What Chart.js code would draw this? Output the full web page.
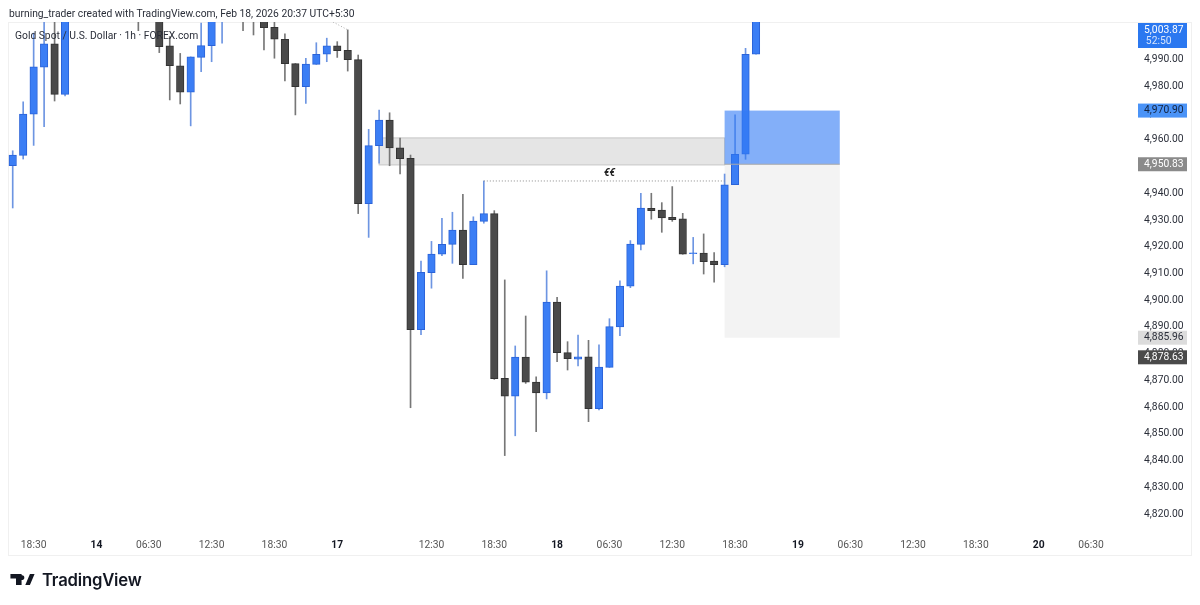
<!DOCTYPE html>
<html>
<head>
<meta charset="utf-8">
<title>Gold Spot / U.S. Dollar</title>
<script src="https://cdn.jsdelivr.net/npm/chart.js@4"></script>
<style>
    body { margin: 0; background: #fff; width: 1200px; height: 605px; overflow: hidden; position: relative; font-family: Roboto, sans-serif; }
    canvas { position: absolute; left: 0; top: 0; }
    .byline { position: absolute; left: 9px; top: 6px; font-size: 10.3px; line-height: 16px; color: #2a2e39; white-space: nowrap; }
    .symbol { position: absolute; left: 15px; top: 28px; font-size: 10.3px; line-height: 16px; color: #2a2e39; white-space: nowrap; }
    .logo { position: absolute; left: 10px; top: 573px; width: 25px; height: 13px; }
    .brand { position: absolute; left: 42px; top: 568px; font-family: Inter, sans-serif; font-size: 16.7px; font-weight: 600; line-height: 24px; color: #131722; letter-spacing: -0.2px; }
</style>
</head>
<body>
<canvas id="goldChart" width="1200" height="605"></canvas>
<div class="byline">burning_trader created with TradingView.com, Feb 18, 2026 20:37 UTC+5:30</div>
<div class="symbol">Gold Spot / U.S. Dollar · 1h · FOREX.com</div>
<svg class="logo" viewBox="0 0 26 14"><path fill="#131722" d="M0 1h12v12H6V6H0zM15 5a2.6 2.6 0 1 1 0-.01zM21 1h5l-5 12h-5z"/></svg>
<div class="brand">TradingView</div>
<script>
// candles, bar by bar; bars 6-13 and 21-23 sit above the visible range so they are estimates
const opens = [4949.9, 4953.8, 4969.2, 4986.8, 4995.5, 4976.6, 5012, 5024, 5018, 5033, 5040, 5030, 5020, 5012, 5018, 4994.7, 4987.3, 4977.4, 4990.4, 4994.8, 5008, 5016, 5020, 5012, 5008, 5001.7, 4997.2, 4988.1, 4979.5, 4987.8, 4991.6, 4994.7, 4993.1, 4989.6, 4935.7, 4957.4, 4967.0, 4956.6, 4952.7, 4888.6, 4909.9, 4916.8, 4920.5, 4925.8, 4912.9, 4929.1, 4932.0, 4870.4, 4863.7, 4878.3, 4869.0, 4864.9, 4898.9, 4880.0, 4877.6, 4878.4, 4859.0, 4874.5, 4889.6, 4904.9, 4920.5, 4934.0, 4933.3, 4930.6, 4930.0, 4917.0, 4917.2, 4914.2, 4912.9, 4942.8, 4954.2, 4991.6];
const highs = [4955.5, 4973.8, 4999.5, 5006, 5005, 5016, 5029, 5031, 5038, 5046, 5048, 5036, 5026, 5022, 5020, 4998.2, 4991.9, 4990.6, 5003.2, 5014, 5022, 5026, 5024, 5016, 5012, 5004.5, 4999.2, 4988.1, 4990.1, 4995.9, 4997.6, 4996.3, 5000.7, 4991.3, 4963.5, 4970.7, 4969.7, 4960.2, 4953.9, 4914.2, 4921.6, 4930.2, 4932.5, 4939.2, 4930.8, 4944.2, 4933.1, 4907.2, 4882.5, 4893.7, 4871.0, 4910.6, 4900.7, 4884.1, 4886.6, 4884.6, 4882.9, 4892.7, 4906.9, 4921.9, 4939.6, 4939.6, 4936.1, 4942.1, 4932.1, 4923.1, 4924.4, 4917.4, 4946.8, 4968.9, 4993.8, 5006];
const lows = [4934.1, 4952.4, 4957.5, 4964.5, 4974.1, 4976.0, 5008, 5014, 5015, 5028, 5024, 5014, 5000.4, 5006, 4992.2, 4974.5, 4973.0, 4964.8, 4985.1, 4988.8, 4995.7, 5008, 5000.4, 4998.8, 4993.2, 4990.1, 4981.6, 4968.9, 4973.2, 4987.8, 4988.8, 4990.4, 4985.3, 4932.0, 4923.1, 4950.9, 4949.9, 4946.8, 4859.4, 4886.7, 4904.1, 4916.3, 4913.4, 4907.8, 4912.9, 4928.4, 4870.0, 4841.5, 4848.9, 4868.5, 4850.4, 4862.7, 4876.6, 4873.5, 4875.0, 4854.2, 4858.6, 4874.5, 4886.3, 4904.3, 4918.4, 4929.9, 4925.0, 4929.1, 4916.8, 4913.2, 4909.4, 4906.4, 4912.1, 4942.8, 4952.3, 4991.6];
const closes = [4953.9, 4969.2, 4986.9, 4995.5, 4976.6, 5012, 5024, 5018, 5033, 5040, 5030, 5020, 5012, 5018, 4994.4, 4987.3, 4977.4, 4990.6, 4994.8, 5008, 5016, 5020, 5012, 5008, 5001.5, 4997.2, 4988.1, 4979.5, 4987.9, 4991.6, 4994.7, 4992.9, 4989.6, 4935.7, 4957.4, 4967.0, 4956.6, 4952.5, 4888.6, 4910.0, 4916.9, 4920.5, 4925.8, 4912.9, 4929.2, 4932.0, 4870.3, 4863.7, 4878.3, 4869.0, 4864.9, 4898.9, 4880.0, 4877.7, 4878.4, 4859.0, 4874.6, 4889.7, 4904.9, 4920.6, 4934.1, 4933.1, 4930.4, 4929.7, 4916.8, 4917.3, 4914.0, 4912.9, 4942.8, 4954.2, 4991.6, 5003.87];

// axis ticks
const priceTicks = [4820, 4830, 4840, 4850, 4860, 4870, 4880, 4890, 4900, 4910, 4920, 4930, 4940, 4950, 4960, 4970, 4980, 4990];
const timeTickBars = [2, 8, 13, 19, 25, 31, 40, 46, 52, 57, 63, 69, 75, 80, 86, 92, 98, 103];
const timeTickLabels = ['18:30', '14', '06:30', '12:30', '18:30', '17', '12:30', '18:30', '18', '06:30', '12:30', '18:30', '19', '06:30', '12:30', '18:30', '20', '06:30'];
const dayLabels = ['14', '17', '18', '19', '20'];

// drawings on the chart
const zoneBars = [35, 68];
const zonePrices = [4950.2, 4960.3];
const positionBars = [68, 79];
const entryPrice = 4950.83;
const targetPrice = 4970.90;
const stopPrice = 4885.96;
const sweepBars = [45, 68];
const sweepPrice = 4944.2;
const trendBars = [30.6, 32];
const trendPrices = [5003.65, 5000.7];

// last price and the other tags on the price axis
const lastPrice = 5003.87;
const countdown = '52:50';
const currentPrice = 4878.63;

const upColor = '#3b7ef5';
const downColor = '#4a4a4a';
const bars = opens.map((o, i) => i);
const isUp = bars.map(i => closes[i] >= opens[i]);
const money = v => v.toLocaleString('en-US', { minimumFractionDigits: 2, maximumFractionDigits: 2 });

// boxes and tags sit about a pixel lower than the candles
const tagNudge = 1;

// frame of the pane, below everything else
const framePlugin = {
    id: 'frame',
    beforeDraw(chart) {
        const ctx = chart.ctx;
        ctx.save();
        ctx.strokeStyle = '#f0f0f0';
        ctx.lineWidth = 1;
        ctx.strokeRect(8.5, 22.5, 1183, 533);
        ctx.restore();
    }
};

// grey zone and stop box go under the candles, target box on top of them
const boxesPlugin = {
    id: 'boxes',
    beforeDatasetsDraw(chart) {
        const { ctx, scales: { x, y } } = chart;
        const left = x.getPixelForValue(positionBars[0]);
        const right = x.getPixelForValue(positionBars[1]);
        ctx.save();
        ctx.fillStyle = '#f3f3f3';
        ctx.fillRect(left, y.getPixelForValue(entryPrice) + tagNudge, right - left, y.getPixelForValue(stopPrice) - y.getPixelForValue(entryPrice));

        const zoneLeft = x.getPixelForValue(zoneBars[0]);
        const zoneRight = x.getPixelForValue(zoneBars[1]);
        const zoneTop = y.getPixelForValue(zonePrices[1]);
        const zoneBottom = y.getPixelForValue(zonePrices[0]);
        ctx.fillStyle = '#e5e5e5';
        ctx.fillRect(zoneLeft, zoneTop, zoneRight - zoneLeft, zoneBottom - zoneTop);
        ctx.strokeStyle = '#c6c6c6';
        ctx.lineWidth = 1;
        ctx.strokeRect(zoneLeft, zoneTop, zoneRight - zoneLeft, zoneBottom - zoneTop);

        ctx.fillStyle = '#222';
        ctx.font = 'italic bold 10px Roboto';
        ctx.textAlign = 'center';
        ctx.textBaseline = 'middle';
        ctx.fillText('€€', x.getPixelForValue(57), y.getPixelForValue(4947.1));
        ctx.restore();
    },
    afterDatasetsDraw(chart) {
        const { ctx, scales: { x, y } } = chart;
        const left = x.getPixelForValue(positionBars[0]);
        const right = x.getPixelForValue(positionBars[1]);
        const top = y.getPixelForValue(targetPrice) + tagNudge;
        const bottom = y.getPixelForValue(entryPrice) + tagNudge;
        ctx.save();
        ctx.fillStyle = 'rgba(49, 121, 245, 0.6)';
        ctx.fillRect(left, top, right - left, bottom - top);
        ctx.strokeStyle = '#a9a9a9';
        ctx.beginPath();
        ctx.moveTo(left, bottom);
        ctx.lineTo(right, bottom);
        ctx.stroke();
        ctx.restore();
    }
};

// coloured labels sitting on top of the price axis
const priceTagsPlugin = {
    id: 'priceTags',
    afterDraw(chart) {
        const { ctx, scales: { y } } = chart;
        const tagLeft = 1138;
        const tagWidth = 49;
        const textRight = 1183.5;
        ctx.save();
        ctx.font = '10.3px Roboto';
        ctx.textAlign = 'right';
        ctx.textBaseline = 'middle';

        const drawTag = (price, fill, color) => {
            const py = y.getPixelForValue(price) + tagNudge;
            ctx.fillStyle = fill;
            ctx.fillRect(tagLeft, py - 7, tagWidth, 14);
            ctx.fillStyle = color;
            ctx.fillText(money(price), textRight, py);
        };
        drawTag(targetPrice, '#4a93f7', '#14233f');
        drawTag(entryPrice, '#8a8a8a', '#fff');
        drawTag(stopPrice, '#dcdcdc', '#2a2e39');
        drawTag(currentPrice, '#4a4a4a', '#fff');

        // last price tag is pushed down so it stays inside the pane
        ctx.fillStyle = '#2b78f0';
        ctx.fillRect(tagLeft, 23, tagWidth, 25);
        ctx.fillStyle = '#fff';
        ctx.fillText(money(lastPrice), textRight, 30);
        ctx.fillStyle = '#d5e4fd';
        ctx.fillText(countdown, textRight - 12, 41);
        ctx.restore();
    }
};

new Chart(document.getElementById('goldChart'), {
    data: {
        datasets: [
            {
                type: 'bar',
                label: 'wicks',
                data: bars.map(i => ({ x: i, y: [lows[i], highs[i]] })),
                grouped: false,
                barThickness: 1,
                backgroundColor: bars.map(i => isUp[i] ? '#6d95e2' : '#777777'),
                order: 2
            },
            {
                type: 'bar',
                label: 'bodies',
                data: bars.map(i => ({ x: i, y: [opens[i], closes[i]] })),
                grouped: false,
                barThickness: 7.5,
                backgroundColor: bars.map(i => isUp[i] ? upColor : downColor),
                borderColor: bars.map(i => isUp[i] ? '#2b63d8' : '#333333'),
                borderWidth: 1,
                borderSkipped: false,
                order: 1
            },
            {
                type: 'line',
                label: 'sweep',
                data: sweepBars.map(b => ({ x: b, y: sweepPrice })),
                borderColor: '#8a8a8a',
                borderWidth: 1,
                borderDash: [1, 2],
                pointRadius: 0,
                order: 0
            },
            {
                type: 'line',
                label: 'trend',
                data: trendBars.map((b, i) => ({ x: b, y: trendPrices[i] })),
                borderColor: '#aaaaaa',
                borderWidth: 1,
                borderDash: [1, 2],
                pointRadius: 0,
                order: 0
            }
        ]
    },
    options: {
        responsive: false,
        animation: false,
        events: [],
        layout: {
            padding: { left: 8, right: 9, top: 22, bottom: 0 }
        },
        plugins: {
            legend: { display: false },
            tooltip: { enabled: false }
        },
        scales: {
            x: {
                type: 'linear',
                offset: false,
                min: -0.45,
                max: 112.55,
                grid: { display: false, drawTicks: false },
                border: { display: false },
                afterBuildTicks(scale) {
                    scale.ticks = timeTickBars.map(v => ({ value: v }));
                },
                afterFit(scale) {
                    scale.height = 72;
                },
                ticks: {
                    autoSkip: false,
                    maxRotation: 0,
                    padding: 6,
                    color: ctx => dayLabels.includes(timeTickLabels[ctx.index]) ? '#131722' : '#555555',
                    font: ctx => ({
                        family: 'Roboto',
                        size: 10.3,
                        weight: dayLabels.includes(timeTickLabels[ctx.index]) ? 'bold' : 'normal'
                    }),
                    callback: value => timeTickLabels[timeTickBars.indexOf(value)]
                }
            },
            y: {
                type: 'linear',
                position: 'right',
                min: 4812.55,
                max: 5003.65,
                grid: { display: false, drawTicks: false },
                border: { display: false },
                afterBuildTicks(scale) {
                    scale.ticks = priceTicks.map(v => ({ value: v }));
                },
                afterFit(scale) {
                    scale.width = 0;
                },
                ticks: {
                    mirror: true,
                    padding: -7.5,
                    labelOffset: 1,
                    color: '#2a2e39',
                    font: { family: 'Roboto', size: 10.3 },
                    callback: value => money(value)
                }
            }
        }
    },
    plugins: [framePlugin, boxesPlugin, priceTagsPlugin]
});
</script>
</body>
</html>
